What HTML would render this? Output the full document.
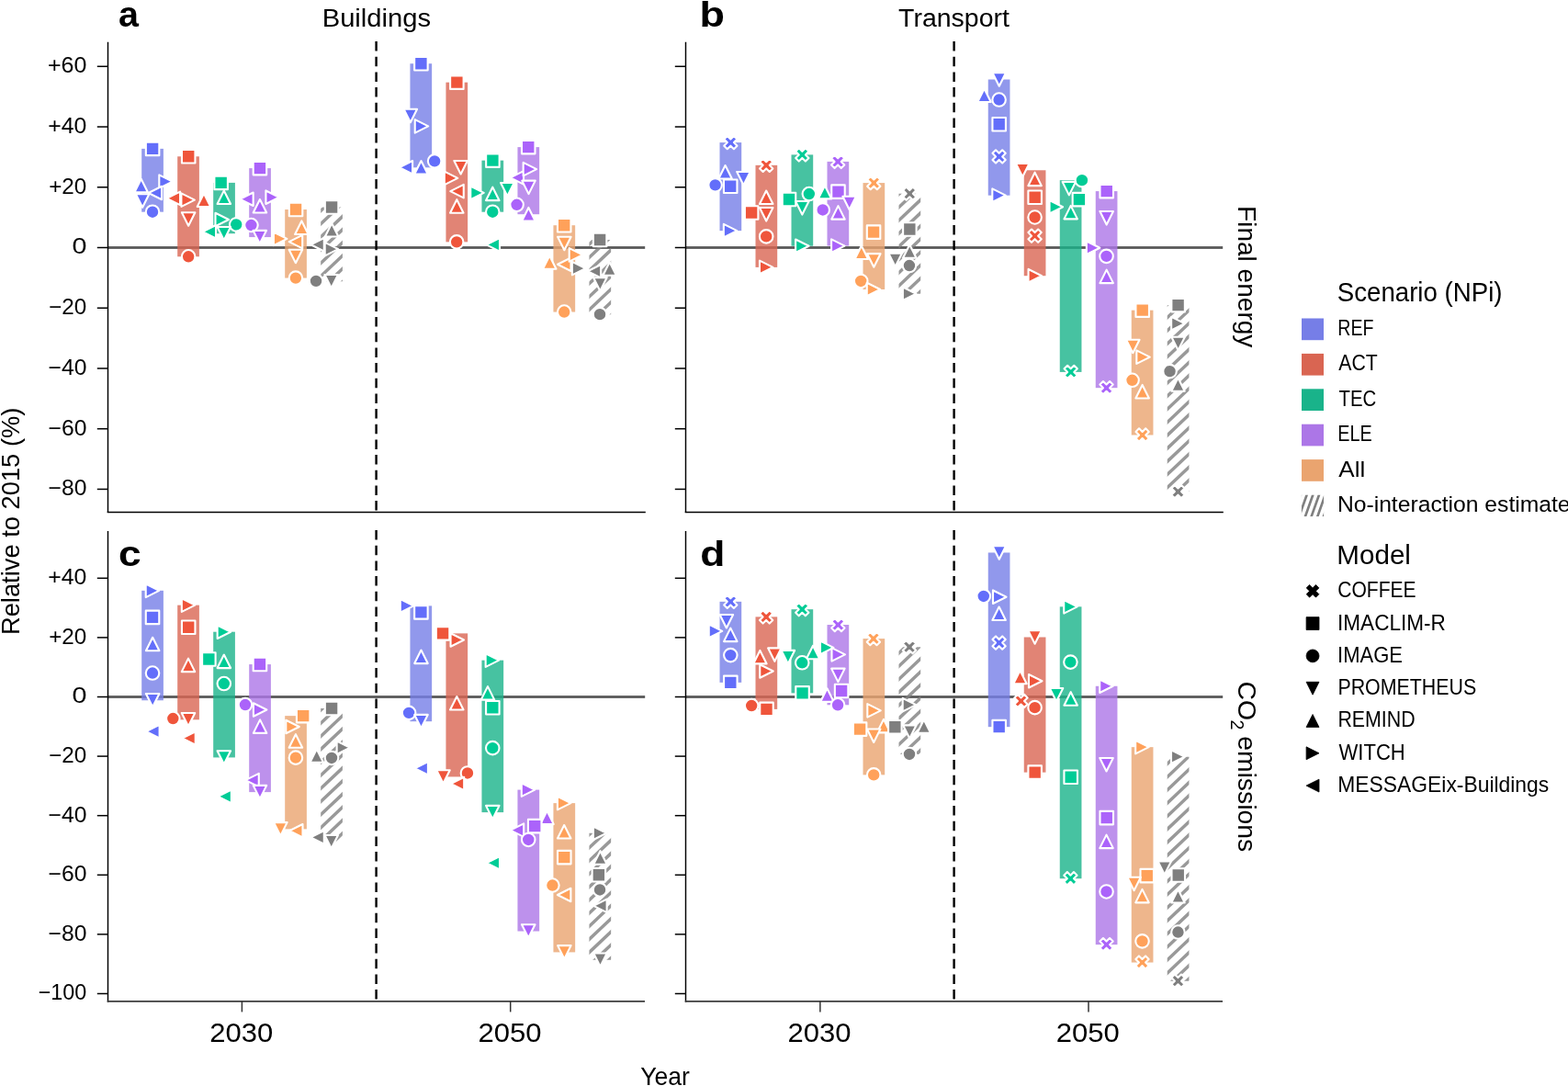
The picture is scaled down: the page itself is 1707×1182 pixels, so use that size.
<!DOCTYPE html>
<html lang="en">
<head>
<meta charset="utf-8">
<title>Sectoral scenarios: final energy and CO2 emissions relative to 2015</title>
<style>
html,body{margin:0;padding:0;background:#fff;}
body{width:1707px;height:1182px;overflow:hidden;}
svg{display:block;}
text{white-space:pre;}
</style>
</head>
<body>
<svg width="1707" height="1182" viewBox="0 0 1707 1182" font-family='"Liberation Sans", sans-serif' fill="#000">
<rect width="1707" height="1182" fill="#fff"/>
<g id="panel-a">
<rect x="117.50" y="268.10" width="584.70" height="2.8" fill="#595959"/>
<rect x="154.20" y="161.88" width="23.7" height="68.80" fill="#767ee7" opacity="0.8"/>
<rect x="232.20" y="198.90" width="23.7" height="55.30" fill="#19b38a" opacity="0.8"/>
<clipPath id="hc1"><rect x="349.20" y="225.44" width="23.7" height="80.81"/></clipPath>
<path d="M347.20,200.56L374.90,174.38V179.18L347.20,205.36ZM347.20,214.79L374.90,188.61V193.41L347.20,219.59ZM347.20,229.02L374.90,202.84V207.64L347.20,233.82ZM347.20,243.25L374.90,217.07V221.87L347.20,248.05ZM347.20,257.48L374.90,231.30V236.10L347.20,262.28ZM347.20,271.71L374.90,245.53V250.33L347.20,276.51ZM347.20,285.94L374.90,259.76V264.56L347.20,290.74ZM347.20,300.17L374.90,273.99V278.79L347.20,304.97ZM347.20,314.40L374.90,288.22V293.02L347.20,319.20ZM347.20,328.63L374.90,302.45V307.25L347.20,333.43ZM347.20,342.86L374.90,316.68V321.48L347.20,347.66ZM347.20,357.09L374.90,330.91V335.71L347.20,361.89ZM347.20,371.32L374.90,345.14V349.94L347.20,376.12Z" fill="#7f7f7f" opacity="0.8" clip-path="url(#hc1)"/>
<rect x="310.20" y="228.02" width="23.7" height="74.56" fill="#eaa46f" opacity="0.8"/>
<rect x="271.20" y="183.09" width="23.7" height="74.99" fill="#ac76e7" opacity="0.8"/>
<rect x="193.20" y="170.29" width="23.7" height="109.00" fill="#d96552" opacity="0.8"/>
<rect x="446.45" y="69.24" width="23.7" height="113.09" fill="#767ee7" opacity="0.8"/>
<rect x="524.45" y="174.64" width="23.7" height="56.06" fill="#19b38a" opacity="0.8"/>
<clipPath id="hc2"><rect x="641.45" y="260.96" width="23.7" height="81.18"/></clipPath>
<path d="M639.45,237.04L667.15,210.86V215.66L639.45,241.84ZM639.45,251.27L667.15,225.09V229.89L639.45,256.07ZM639.45,265.50L667.15,239.32V244.12L639.45,270.30ZM639.45,279.73L667.15,253.55V258.35L639.45,284.53ZM639.45,293.96L667.15,267.78V272.58L639.45,298.76ZM639.45,308.19L667.15,282.01V286.81L639.45,312.99ZM639.45,322.42L667.15,296.24V301.04L639.45,327.22ZM639.45,336.65L667.15,310.47V315.27L639.45,341.45ZM639.45,350.88L667.15,324.70V329.50L639.45,355.68ZM639.45,365.11L667.15,338.93V343.73L639.45,369.91ZM639.45,379.34L667.15,353.16V357.96L639.45,384.14ZM639.45,393.57L667.15,367.39V372.19L639.45,398.37ZM639.45,407.80L667.15,381.62V386.42L639.45,412.60Z" fill="#7f7f7f" opacity="0.8" clip-path="url(#hc2)"/>
<rect x="602.45" y="245.22" width="23.7" height="94.33" fill="#eaa46f" opacity="0.8"/>
<rect x="563.45" y="160.12" width="23.7" height="73.09" fill="#ac76e7" opacity="0.8"/>
<rect x="485.45" y="89.66" width="23.7" height="173.68" fill="#d96552" opacity="0.8"/>
<line x1="409.6" y1="45.10" x2="409.6" y2="555.61" stroke="#000" stroke-width="2.4" stroke-dasharray="10.5 6.167"/>
<g stroke-linejoin="round">
<rect x="158.85" y="154.63" width="14.50" height="14.50" fill="#636EFA" stroke="#fff" stroke-width="2.1"/>
<polygon points="153.66,194.74 146.41,209.24 160.91,209.24" fill="#636EFA" stroke="#fff" stroke-width="2.1"/>
<polygon points="155.10,225.79 147.85,211.29 162.35,211.29" fill="#636EFA" stroke="#fff" stroke-width="2.1"/>
<polygon points="187.80,197.61 173.30,190.36 173.30,204.86" fill="#636EFA" stroke="#fff" stroke-width="2.1"/>
<polygon points="161.58,209.98 176.08,202.73 176.08,217.23" fill="#636EFA" stroke="#fff" stroke-width="2.1"/>
<circle cx="166.03" cy="230.68" r="7.25" fill="#636EFA" stroke="#fff" stroke-width="2.1"/>
<rect x="197.96" y="163.04" width="14.50" height="14.50" fill="#EF553B" stroke="#fff" stroke-width="2.1"/>
<polygon points="181.57,215.87 196.07,208.62 196.07,223.12" fill="#EF553B" stroke="#fff" stroke-width="2.1"/>
<polygon points="211.89,217.60 197.39,210.35 197.39,224.85" fill="#EF553B" stroke="#fff" stroke-width="2.1"/>
<polygon points="221.97,210.56 214.72,225.06 229.22,225.06" fill="#EF553B" stroke="#fff" stroke-width="2.1"/>
<polygon points="205.14,245.77 197.89,231.27 212.39,231.27" fill="#EF553B" stroke="#fff" stroke-width="2.1"/>
<circle cx="205.14" cy="279.29" r="7.25" fill="#EF553B" stroke="#fff" stroke-width="2.1"/>
<rect x="233.41" y="191.65" width="14.50" height="14.50" fill="#00CC96" stroke="#fff" stroke-width="2.1"/>
<polygon points="243.82,207.54 236.57,222.04 251.07,222.04" fill="#00CC96" stroke="#fff" stroke-width="2.1"/>
<circle cx="257.20" cy="244.35" r="7.25" fill="#00CC96" stroke="#fff" stroke-width="2.1"/>
<polygon points="220.54,252.25 235.04,245.00 235.04,259.50" fill="#00CC96" stroke="#fff" stroke-width="2.1"/>
<polygon points="243.82,261.45 236.57,246.95 251.07,246.95" fill="#00CC96" stroke="#fff" stroke-width="2.1"/>
<polygon points="248.99,239.02 234.49,231.77 234.49,246.27" fill="#00CC96" stroke="#fff" stroke-width="2.1"/>
<rect x="275.69" y="175.84" width="14.50" height="14.50" fill="#AB63FA" stroke="#fff" stroke-width="2.1"/>
<polygon points="261.16,216.74 275.66,209.49 275.66,223.99" fill="#AB63FA" stroke="#fff" stroke-width="2.1"/>
<polygon points="303.92,214.72 289.42,207.47 289.42,221.97" fill="#AB63FA" stroke="#fff" stroke-width="2.1"/>
<polygon points="282.94,217.03 275.69,231.53 290.19,231.53" fill="#AB63FA" stroke="#fff" stroke-width="2.1"/>
<circle cx="273.45" cy="245.06" r="7.25" fill="#AB63FA" stroke="#fff" stroke-width="2.1"/>
<polygon points="282.79,265.33 275.54,250.83 290.04,250.83" fill="#AB63FA" stroke="#fff" stroke-width="2.1"/>
<rect x="314.80" y="220.77" width="14.50" height="14.50" fill="#FFA15A" stroke="#fff" stroke-width="2.1"/>
<polygon points="328.38,240.47 321.13,254.97 335.63,254.97" fill="#FFA15A" stroke="#fff" stroke-width="2.1"/>
<polygon points="312.41,259.88 297.91,252.63 297.91,267.13" fill="#FFA15A" stroke="#fff" stroke-width="2.1"/>
<polygon points="314.72,263.18 329.22,255.93 329.22,270.43" fill="#FFA15A" stroke="#fff" stroke-width="2.1"/>
<polygon points="321.91,286.18 314.66,271.68 329.16,271.68" fill="#FFA15A" stroke="#fff" stroke-width="2.1"/>
<circle cx="321.91" cy="302.58" r="7.25" fill="#FFA15A" stroke="#fff" stroke-width="2.1"/>
<rect x="353.84" y="218.19" width="14.50" height="14.50" fill="#7f7f7f" stroke="#fff" stroke-width="2.1"/>
<polygon points="361.16,243.06 353.91,257.56 368.41,257.56" fill="#7f7f7f" stroke="#fff" stroke-width="2.1"/>
<polygon points="338.31,266.20 352.81,258.95 352.81,273.45" fill="#7f7f7f" stroke="#fff" stroke-width="2.1"/>
<polygon points="368.20,271.09 353.70,263.84 353.70,278.34" fill="#7f7f7f" stroke="#fff" stroke-width="2.1"/>
<circle cx="344.05" cy="305.89" r="7.25" fill="#7f7f7f" stroke="#fff" stroke-width="2.1"/>
<polygon points="360.73,313.50 353.48,299.00 367.98,299.00" fill="#7f7f7f" stroke="#fff" stroke-width="2.1"/>
<rect x="451.15" y="61.99" width="14.50" height="14.50" fill="#636EFA" stroke="#fff" stroke-width="2.1"/>
<polygon points="446.82,133.22 439.57,118.72 454.07,118.72" fill="#636EFA" stroke="#fff" stroke-width="2.1"/>
<polygon points="466.23,137.40 451.73,130.15 451.73,144.65" fill="#636EFA" stroke="#fff" stroke-width="2.1"/>
<circle cx="473.14" cy="175.36" r="7.25" fill="#636EFA" stroke="#fff" stroke-width="2.1"/>
<polygon points="434.61,182.26 449.11,175.01 449.11,189.51" fill="#636EFA" stroke="#fff" stroke-width="2.1"/>
<polygon points="458.47,175.08 451.22,189.58 465.72,189.58" fill="#636EFA" stroke="#fff" stroke-width="2.1"/>
<rect x="490.12" y="82.41" width="14.50" height="14.50" fill="#EF553B" stroke="#fff" stroke-width="2.1"/>
<polygon points="501.61,189.44 494.36,174.94 508.86,174.94" fill="#EF553B" stroke="#fff" stroke-width="2.1"/>
<polygon points="498.30,193.91 483.80,186.66 483.80,201.16" fill="#EF553B" stroke="#fff" stroke-width="2.1"/>
<polygon points="490.26,208.15 504.76,200.90 504.76,215.40" fill="#EF553B" stroke="#fff" stroke-width="2.1"/>
<rect x="529.16" y="167.39" width="14.50" height="14.50" fill="#00CC96" stroke="#fff" stroke-width="2.1"/>
<rect x="567.99" y="152.87" width="14.50" height="14.50" fill="#AB63FA" stroke="#fff" stroke-width="2.1"/>
<polygon points="555.55,193.33 570.05,186.08 570.05,200.58" fill="#AB63FA" stroke="#fff" stroke-width="2.1"/>
<polygon points="584.14,184.13 569.64,176.88 569.64,191.38" fill="#AB63FA" stroke="#fff" stroke-width="2.1"/>
<polygon points="497.30,217.19 490.05,231.69 504.55,231.69" fill="#EF553B" stroke="#fff" stroke-width="2.1"/>
<circle cx="497.15" cy="263.34" r="7.25" fill="#EF553B" stroke="#fff" stroke-width="2.1"/>
<polygon points="526.77,209.84 512.27,202.59 512.27,217.09" fill="#00CC96" stroke="#fff" stroke-width="2.1"/>
<polygon points="536.27,203.67 529.02,218.17 543.52,218.17" fill="#00CC96" stroke="#fff" stroke-width="2.1"/>
<polygon points="552.37,213.43 545.12,198.93 559.62,198.93" fill="#00CC96" stroke="#fff" stroke-width="2.1"/>
<circle cx="536.27" cy="230.70" r="7.25" fill="#00CC96" stroke="#fff" stroke-width="2.1"/>
<polygon points="529.52,266.36 544.02,259.11 544.02,273.61" fill="#00CC96" stroke="#fff" stroke-width="2.1"/>
<polygon points="575.52,211.13 568.27,196.63 582.77,196.63" fill="#AB63FA" stroke="#fff" stroke-width="2.1"/>
<circle cx="562.58" cy="222.79" r="7.25" fill="#AB63FA" stroke="#fff" stroke-width="2.1"/>
<polygon points="575.38,225.96 568.13,240.46 582.63,240.46" fill="#AB63FA" stroke="#fff" stroke-width="2.1"/>
<rect x="606.96" y="237.97" width="14.50" height="14.50" fill="#FFA15A" stroke="#fff" stroke-width="2.1"/>
<polygon points="614.35,272.24 607.10,257.74 621.60,257.74" fill="#FFA15A" stroke="#fff" stroke-width="2.1"/>
<polygon points="598.24,278.30 590.99,292.80 605.49,292.80" fill="#FFA15A" stroke="#fff" stroke-width="2.1"/>
<polygon points="607.03,287.78 621.53,280.53 621.53,295.03" fill="#FFA15A" stroke="#fff" stroke-width="2.1"/>
<polygon points="634.19,277.43 619.69,270.18 619.69,284.68" fill="#FFA15A" stroke="#fff" stroke-width="2.1"/>
<circle cx="614.21" cy="339.55" r="7.25" fill="#FFA15A" stroke="#fff" stroke-width="2.1"/>
<rect x="645.85" y="253.71" width="14.50" height="14.50" fill="#7f7f7f" stroke="#fff" stroke-width="2.1"/>
<polygon points="637.35,292.10 622.85,284.85 622.85,299.35" fill="#7f7f7f" stroke="#fff" stroke-width="2.1"/>
<polygon points="639.67,295.26 654.17,288.01 654.17,302.51" fill="#7f7f7f" stroke="#fff" stroke-width="2.1"/>
<polygon points="663.67,285.20 656.42,299.70 670.92,299.70" fill="#7f7f7f" stroke="#fff" stroke-width="2.1"/>
<polygon points="653.32,316.82 646.07,302.32 660.57,302.32" fill="#7f7f7f" stroke="#fff" stroke-width="2.1"/>
<circle cx="653.03" cy="342.14" r="7.25" fill="#7f7f7f" stroke="#fff" stroke-width="2.1"/>
</g>
<line x1="117.50" y1="45.70" x2="117.50" y2="558.10" stroke="#000" stroke-width="1.45"/>
<line x1="116.80" y1="557.55" x2="702.80" y2="557.55" stroke="#000" stroke-width="1.4"/>
<line x1="105.80" y1="72.30" x2="117.50" y2="72.30" stroke="#000" stroke-width="1.5"/>
<text x="51.95" y="79.25" font-size="23.80" textLength="42.46" lengthAdjust="spacingAndGlyphs">+60</text>
<line x1="105.80" y1="138.03" x2="117.50" y2="138.03" stroke="#000" stroke-width="1.5"/>
<text x="52.26" y="144.98" font-size="23.80" textLength="42.14" lengthAdjust="spacingAndGlyphs">+40</text>
<line x1="105.80" y1="203.77" x2="117.50" y2="203.77" stroke="#000" stroke-width="1.5"/>
<text x="53.19" y="210.72" font-size="23.80" textLength="41.20" lengthAdjust="spacingAndGlyphs">+20</text>
<line x1="105.80" y1="269.50" x2="117.50" y2="269.50" stroke="#000" stroke-width="1.5"/>
<text x="78.55" y="276.45" font-size="23.80" textLength="15.99" lengthAdjust="spacingAndGlyphs">0</text>
<line x1="105.80" y1="335.24" x2="117.50" y2="335.24" stroke="#000" stroke-width="1.5"/>
<text x="53.19" y="342.19" font-size="23.80" textLength="41.20" lengthAdjust="spacingAndGlyphs">−20</text>
<line x1="105.80" y1="400.98" x2="117.50" y2="400.98" stroke="#000" stroke-width="1.5"/>
<text x="52.46" y="407.93" font-size="23.80" textLength="41.93" lengthAdjust="spacingAndGlyphs">−40</text>
<line x1="105.80" y1="466.71" x2="117.50" y2="466.71" stroke="#000" stroke-width="1.5"/>
<text x="52.46" y="473.66" font-size="23.80" textLength="41.93" lengthAdjust="spacingAndGlyphs">−60</text>
<line x1="105.80" y1="532.44" x2="117.50" y2="532.44" stroke="#000" stroke-width="1.5"/>
<text x="52.46" y="539.39" font-size="23.80" textLength="41.93" lengthAdjust="spacingAndGlyphs">−80</text>
</g>
<g id="panel-b">
<rect x="746.50" y="268.10" width="584.70" height="2.8" fill="#595959"/>
<rect x="783.50" y="155.09" width="23.7" height="96.05" fill="#767ee7" opacity="0.8"/>
<rect x="861.50" y="168.40" width="23.7" height="99.34" fill="#19b38a" opacity="0.8"/>
<clipPath id="hc3"><rect x="978.50" y="210.67" width="23.7" height="109.05"/></clipPath>
<path d="M976.50,182.48L1004.20,156.30V161.10L976.50,187.28ZM976.50,196.71L1004.20,170.53V175.33L976.50,201.51ZM976.50,210.94L1004.20,184.76V189.56L976.50,215.74ZM976.50,225.17L1004.20,198.99V203.79L976.50,229.97ZM976.50,239.40L1004.20,213.22V218.02L976.50,244.20ZM976.50,253.63L1004.20,227.45V232.25L976.50,258.43ZM976.50,267.86L1004.20,241.68V246.48L976.50,272.66ZM976.50,282.09L1004.20,255.91V260.71L976.50,286.89ZM976.50,296.32L1004.20,270.14V274.94L976.50,301.12ZM976.50,310.55L1004.20,284.37V289.17L976.50,315.35ZM976.50,324.78L1004.20,298.60V303.40L976.50,329.58ZM976.50,339.01L1004.20,312.83V317.63L976.50,343.81ZM976.50,353.24L1004.20,327.06V331.86L976.50,358.04ZM976.50,367.47L1004.20,341.29V346.09L976.50,372.27ZM976.50,381.70L1004.20,355.52V360.32L976.50,386.50Z" fill="#7f7f7f" opacity="0.8" clip-path="url(#hc3)"/>
<rect x="939.50" y="199.08" width="23.7" height="115.94" fill="#eaa46f" opacity="0.8"/>
<rect x="900.50" y="175.91" width="23.7" height="91.67" fill="#ac76e7" opacity="0.8"/>
<rect x="822.50" y="179.83" width="23.7" height="111.08" fill="#d96552" opacity="0.8"/>
<rect x="1075.75" y="86.50" width="23.7" height="126.18" fill="#767ee7" opacity="0.8"/>
<rect x="1153.75" y="196.14" width="23.7" height="208.77" fill="#19b38a" opacity="0.8"/>
<clipPath id="hc4"><rect x="1270.75" y="332.13" width="23.7" height="202.92"/></clipPath>
<path d="M1268.75,302.54L1296.45,276.36V281.16L1268.75,307.34ZM1268.75,316.77L1296.45,290.59V295.39L1268.75,321.57ZM1268.75,331.00L1296.45,304.82V309.62L1268.75,335.80ZM1268.75,345.23L1296.45,319.05V323.85L1268.75,350.03ZM1268.75,359.46L1296.45,333.28V338.08L1268.75,364.26ZM1268.75,373.69L1296.45,347.51V352.31L1268.75,378.49ZM1268.75,387.92L1296.45,361.74V366.54L1268.75,392.72ZM1268.75,402.15L1296.45,375.97V380.77L1268.75,406.95ZM1268.75,416.38L1296.45,390.20V395.00L1268.75,421.18ZM1268.75,430.61L1296.45,404.43V409.23L1268.75,435.41ZM1268.75,444.84L1296.45,418.66V423.46L1268.75,449.64ZM1268.75,459.07L1296.45,432.89V437.69L1268.75,463.87ZM1268.75,473.30L1296.45,447.12V451.92L1268.75,478.10ZM1268.75,487.53L1296.45,461.35V466.15L1268.75,492.33ZM1268.75,501.76L1296.45,475.58V480.38L1268.75,506.56ZM1268.75,515.99L1296.45,489.81V494.61L1268.75,520.79ZM1268.75,530.22L1296.45,504.04V508.84L1268.75,535.02ZM1268.75,544.45L1296.45,518.27V523.07L1268.75,549.25ZM1268.75,558.68L1296.45,532.50V537.30L1268.75,563.48ZM1268.75,572.91L1296.45,546.73V551.53L1268.75,577.71ZM1268.75,587.14L1296.45,560.96V565.76L1268.75,591.94ZM1268.75,601.37L1296.45,575.19V579.99L1268.75,606.17Z" fill="#7f7f7f" opacity="0.8" clip-path="url(#hc4)"/>
<rect x="1231.75" y="337.67" width="23.7" height="135.83" fill="#eaa46f" opacity="0.8"/>
<rect x="1192.75" y="208.08" width="23.7" height="214.09" fill="#ac76e7" opacity="0.8"/>
<rect x="1114.75" y="185.29" width="23.7" height="114.92" fill="#d96552" opacity="0.8"/>
<line x1="1038.6" y1="45.10" x2="1038.6" y2="555.61" stroke="#000" stroke-width="2.4" stroke-dasharray="10.5 6.167"/>
<g stroke-linejoin="round">
<polygon points="789.57,180.00 782.32,194.50 796.82,194.50" fill="#636EFA" stroke="#fff" stroke-width="2.1"/>
<polygon points="809.45,201.43 802.20,186.93 816.70,186.93" fill="#636EFA" stroke="#fff" stroke-width="2.1"/>
<circle cx="778.61" cy="201.36" r="7.25" fill="#636EFA" stroke="#fff" stroke-width="2.1"/>
<rect x="787.96" y="195.52" width="14.50" height="14.50" fill="#636EFA" stroke="#fff" stroke-width="2.1"/>
<polygon points="791.79,147.95 795.36,151.52 798.93,147.95 802.50,151.52 798.93,155.09 802.50,158.66 798.93,162.23 795.36,158.66 791.79,162.23 788.22,158.66 791.79,155.09 788.22,151.52" fill="#636EFA" stroke="#fff" stroke-width="2.1"/>
<polygon points="802.32,251.14 787.82,243.89 787.82,258.39" fill="#636EFA" stroke="#fff" stroke-width="2.1"/>
<polygon points="834.19,207.55 826.94,222.05 841.44,222.05" fill="#EF553B" stroke="#fff" stroke-width="2.1"/>
<rect x="810.89" y="224.25" width="14.50" height="14.50" fill="#EF553B" stroke="#fff" stroke-width="2.1"/>
<polygon points="834.19,240.57 826.94,226.07 841.44,226.07" fill="#EF553B" stroke="#fff" stroke-width="2.1"/>
<circle cx="834.19" cy="257.41" r="7.25" fill="#EF553B" stroke="#fff" stroke-width="2.1"/>
<polygon points="830.62,172.69 834.19,176.26 837.76,172.69 841.33,176.26 837.76,179.83 841.33,183.40 837.76,186.97 834.19,183.40 830.62,186.97 827.05,183.40 830.62,179.83 827.05,176.26" fill="#EF553B" stroke="#fff" stroke-width="2.1"/>
<polygon points="841.46,290.91 826.96,283.66 826.96,298.16" fill="#EF553B" stroke="#fff" stroke-width="2.1"/>
<circle cx="880.84" cy="211.07" r="7.25" fill="#00CC96" stroke="#fff" stroke-width="2.1"/>
<rect x="851.75" y="209.77" width="14.50" height="14.50" fill="#00CC96" stroke="#fff" stroke-width="2.1"/>
<polygon points="873.33,233.53 866.08,219.03 880.58,219.03" fill="#00CC96" stroke="#fff" stroke-width="2.1"/>
<polygon points="897.91,201.91 890.66,216.41 905.16,216.41" fill="#00CC96" stroke="#fff" stroke-width="2.1"/>
<polygon points="869.76,161.26 873.33,164.83 876.90,161.26 880.47,164.83 876.90,168.40 880.47,171.97 876.90,175.54 873.33,171.97 869.76,175.54 866.19,171.97 869.76,168.40 866.19,164.83" fill="#00CC96" stroke="#fff" stroke-width="2.1"/>
<polygon points="880.60,267.74 866.10,260.49 866.10,274.99" fill="#00CC96" stroke="#fff" stroke-width="2.1"/>
<rect x="905.22" y="201.39" width="14.50" height="14.50" fill="#AB63FA" stroke="#fff" stroke-width="2.1"/>
<polygon points="924.68,228.20 917.43,213.70 931.93,213.70" fill="#AB63FA" stroke="#fff" stroke-width="2.1"/>
<circle cx="895.71" cy="228.44" r="7.25" fill="#AB63FA" stroke="#fff" stroke-width="2.1"/>
<polygon points="912.47,224.15 905.22,238.65 919.72,238.65" fill="#AB63FA" stroke="#fff" stroke-width="2.1"/>
<polygon points="908.58,168.77 912.15,172.34 915.72,168.77 919.29,172.34 915.72,175.91 919.29,179.48 915.72,183.05 912.15,179.48 908.58,183.05 905.01,179.48 908.58,175.91 905.01,172.34" fill="#AB63FA" stroke="#fff" stroke-width="2.1"/>
<polygon points="919.58,267.58 905.08,260.33 905.08,274.83" fill="#AB63FA" stroke="#fff" stroke-width="2.1"/>
<rect x="943.81" y="245.38" width="14.50" height="14.50" fill="#FFA15A" stroke="#fff" stroke-width="2.1"/>
<polygon points="937.83,267.51 930.58,282.01 945.08,282.01" fill="#FFA15A" stroke="#fff" stroke-width="2.1"/>
<polygon points="951.29,290.67 944.04,276.17 958.54,276.17" fill="#FFA15A" stroke="#fff" stroke-width="2.1"/>
<circle cx="937.20" cy="305.94" r="7.25" fill="#FFA15A" stroke="#fff" stroke-width="2.1"/>
<polygon points="947.72,191.94 951.29,195.51 954.86,191.94 958.43,195.51 954.86,199.08 958.43,202.65 954.86,206.22 951.29,202.65 947.72,206.22 944.15,202.65 947.72,199.08 944.15,195.51" fill="#FFA15A" stroke="#fff" stroke-width="2.1"/>
<polygon points="958.25,315.02 943.75,307.77 943.75,322.27" fill="#FFA15A" stroke="#fff" stroke-width="2.1"/>
<rect x="983.10" y="242.25" width="14.50" height="14.50" fill="#7f7f7f" stroke="#fff" stroke-width="2.1"/>
<polygon points="974.62,290.20 967.37,275.70 981.87,275.70" fill="#7f7f7f" stroke="#fff" stroke-width="2.1"/>
<polygon points="990.27,266.26 983.02,280.76 997.52,280.76" fill="#7f7f7f" stroke="#fff" stroke-width="2.1"/>
<circle cx="989.96" cy="289.03" r="7.25" fill="#7f7f7f" stroke="#fff" stroke-width="2.1"/>
<polygon points="986.70,203.53 990.27,207.10 993.84,203.53 997.41,207.10 993.84,210.67 997.41,214.24 993.84,217.81 990.27,214.24 986.70,217.81 983.13,214.24 986.70,210.67 983.13,207.10" fill="#7f7f7f" stroke="#fff" stroke-width="2.1"/>
<polygon points="997.39,319.72 982.89,312.47 982.89,326.97" fill="#7f7f7f" stroke="#fff" stroke-width="2.1"/>
<polygon points="1087.75,93.75 1080.50,79.25 1095.00,79.25" fill="#636EFA" stroke="#fff" stroke-width="2.1"/>
<polygon points="1071.50,96.50 1064.25,111.00 1078.75,111.00" fill="#636EFA" stroke="#fff" stroke-width="2.1"/>
<circle cx="1087.61" cy="108.57" r="7.25" fill="#636EFA" stroke="#fff" stroke-width="2.1"/>
<rect x="1080.43" y="128.07" width="14.50" height="14.50" fill="#636EFA" stroke="#fff" stroke-width="2.1"/>
<polygon points="1084.04,163.26 1087.61,166.83 1091.18,163.26 1094.75,166.83 1091.18,170.40 1094.75,173.97 1091.18,177.54 1087.61,173.97 1084.04,177.54 1080.47,173.97 1084.04,170.40 1080.47,166.83" fill="#636EFA" stroke="#fff" stroke-width="2.1"/>
<polygon points="1094.79,212.68 1080.29,205.43 1080.29,219.93" fill="#636EFA" stroke="#fff" stroke-width="2.1"/>
<polygon points="1113.21,192.54 1105.96,178.04 1120.46,178.04" fill="#EF553B" stroke="#fff" stroke-width="2.1"/>
<polygon points="1126.58,187.67 1119.33,202.17 1133.83,202.17" fill="#EF553B" stroke="#fff" stroke-width="2.1"/>
<rect x="1119.40" y="207.44" width="14.50" height="14.50" fill="#EF553B" stroke="#fff" stroke-width="2.1"/>
<circle cx="1177.91" cy="196.14" r="7.25" fill="#00CC96" stroke="#fff" stroke-width="2.1"/>
<polygon points="1163.82,212.38 1156.57,197.88 1171.07,197.88" fill="#00CC96" stroke="#fff" stroke-width="2.1"/>
<rect x="1167.65" y="209.89" width="14.50" height="14.50" fill="#00CC96" stroke="#fff" stroke-width="2.1"/>
<polygon points="1157.06,225.19 1142.56,217.94 1142.56,232.44" fill="#00CC96" stroke="#fff" stroke-width="2.1"/>
<rect x="1197.48" y="200.83" width="14.50" height="14.50" fill="#AB63FA" stroke="#fff" stroke-width="2.1"/>
<circle cx="1126.58" cy="236.50" r="7.25" fill="#EF553B" stroke="#fff" stroke-width="2.1"/>
<polygon points="1123.01,249.50 1126.58,253.07 1130.15,249.50 1133.72,253.07 1130.15,256.64 1133.72,260.21 1130.15,263.78 1126.58,260.21 1123.01,263.78 1119.44,260.21 1123.01,256.64 1119.44,253.07" fill="#EF553B" stroke="#fff" stroke-width="2.1"/>
<polygon points="1134.05,300.21 1119.55,292.96 1119.55,307.46" fill="#EF553B" stroke="#fff" stroke-width="2.1"/>
<polygon points="1165.69,223.86 1158.44,238.36 1172.94,238.36" fill="#00CC96" stroke="#fff" stroke-width="2.1"/>
<polygon points="1204.66,244.55 1197.41,230.05 1211.91,230.05" fill="#AB63FA" stroke="#fff" stroke-width="2.1"/>
<polygon points="1197.32,269.72 1182.82,262.47 1182.82,276.97" fill="#AB63FA" stroke="#fff" stroke-width="2.1"/>
<circle cx="1204.52" cy="278.92" r="7.25" fill="#AB63FA" stroke="#fff" stroke-width="2.1"/>
<polygon points="1204.66,293.60 1197.41,308.10 1211.91,308.10" fill="#AB63FA" stroke="#fff" stroke-width="2.1"/>
<rect x="1236.45" y="330.42" width="14.50" height="14.50" fill="#FFA15A" stroke="#fff" stroke-width="2.1"/>
<polygon points="1233.28,384.18 1226.03,369.68 1240.53,369.68" fill="#FFA15A" stroke="#fff" stroke-width="2.1"/>
<polygon points="1251.82,388.64 1237.32,381.39 1237.32,395.89" fill="#FFA15A" stroke="#fff" stroke-width="2.1"/>
<rect x="1275.35" y="324.88" width="14.50" height="14.50" fill="#7f7f7f" stroke="#fff" stroke-width="2.1"/>
<polygon points="1289.64,352.12 1275.14,344.87 1275.14,359.37" fill="#7f7f7f" stroke="#fff" stroke-width="2.1"/>
<polygon points="1282.60,381.30 1275.35,366.80 1289.85,366.80" fill="#7f7f7f" stroke="#fff" stroke-width="2.1"/>
<polygon points="1162.12,397.77 1165.69,401.34 1169.26,397.77 1172.83,401.34 1169.26,404.91 1172.83,408.48 1169.26,412.05 1165.69,408.48 1162.12,412.05 1158.55,408.48 1162.12,404.91 1158.55,401.34" fill="#00CC96" stroke="#fff" stroke-width="2.1"/>
<polygon points="1200.95,415.03 1204.52,418.60 1208.09,415.03 1211.66,418.60 1208.09,422.17 1211.66,425.74 1208.09,429.31 1204.52,425.74 1200.95,429.31 1197.38,425.74 1200.95,422.17 1197.38,418.60" fill="#AB63FA" stroke="#fff" stroke-width="2.1"/>
<circle cx="1232.56" cy="413.76" r="7.25" fill="#FFA15A" stroke="#fff" stroke-width="2.1"/>
<polygon points="1243.63,418.95 1236.38,433.45 1250.88,433.45" fill="#FFA15A" stroke="#fff" stroke-width="2.1"/>
<polygon points="1240.06,466.36 1243.63,469.93 1247.20,466.36 1250.77,469.93 1247.20,473.50 1250.77,477.07 1247.20,480.64 1243.63,477.07 1240.06,480.64 1236.49,477.07 1240.06,473.50 1236.49,469.93" fill="#FFA15A" stroke="#fff" stroke-width="2.1"/>
<circle cx="1273.54" cy="404.13" r="7.25" fill="#7f7f7f" stroke="#fff" stroke-width="2.1"/>
<polygon points="1282.46,411.18 1275.21,425.68 1289.71,425.68" fill="#7f7f7f" stroke="#fff" stroke-width="2.1"/>
<polygon points="1278.89,527.91 1282.46,531.48 1286.03,527.91 1289.60,531.48 1286.03,535.05 1289.60,538.62 1286.03,542.19 1282.46,538.62 1278.89,542.19 1275.32,538.62 1278.89,535.05 1275.32,531.48" fill="#7f7f7f" stroke="#fff" stroke-width="2.1"/>
</g>
<line x1="746.50" y1="45.70" x2="746.50" y2="558.10" stroke="#000" stroke-width="1.45"/>
<line x1="745.80" y1="557.55" x2="1331.80" y2="557.55" stroke="#000" stroke-width="1.4"/>
<line x1="734.80" y1="72.30" x2="746.50" y2="72.30" stroke="#000" stroke-width="1.5"/>
<line x1="734.80" y1="138.03" x2="746.50" y2="138.03" stroke="#000" stroke-width="1.5"/>
<line x1="734.80" y1="203.77" x2="746.50" y2="203.77" stroke="#000" stroke-width="1.5"/>
<line x1="734.80" y1="269.50" x2="746.50" y2="269.50" stroke="#000" stroke-width="1.5"/>
<line x1="734.80" y1="335.24" x2="746.50" y2="335.24" stroke="#000" stroke-width="1.5"/>
<line x1="734.80" y1="400.98" x2="746.50" y2="400.98" stroke="#000" stroke-width="1.5"/>
<line x1="734.80" y1="466.71" x2="746.50" y2="466.71" stroke="#000" stroke-width="1.5"/>
<line x1="734.80" y1="532.44" x2="746.50" y2="532.44" stroke="#000" stroke-width="1.5"/>
</g>
<g id="panel-c">
<rect x="117.50" y="757.10" width="584.70" height="2.8" fill="#595959"/>
<rect x="154.20" y="642.83" width="23.7" height="119.43" fill="#767ee7" opacity="0.8"/>
<rect x="232.20" y="687.70" width="23.7" height="136.73" fill="#19b38a" opacity="0.8"/>
<clipPath id="hc5"><rect x="349.20" y="770.96" width="23.7" height="145.36"/></clipPath>
<path d="M347.20,743.91L374.90,717.73V722.53L347.20,748.71ZM347.20,758.14L374.90,731.96V736.76L347.20,762.94ZM347.20,772.37L374.90,746.19V750.99L347.20,777.17ZM347.20,786.60L374.90,760.42V765.22L347.20,791.40ZM347.20,800.83L374.90,774.65V779.45L347.20,805.63ZM347.20,815.06L374.90,788.88V793.68L347.20,819.86ZM347.20,829.29L374.90,803.11V807.91L347.20,834.09ZM347.20,843.52L374.90,817.34V822.14L347.20,848.32ZM347.20,857.75L374.90,831.57V836.37L347.20,862.55ZM347.20,871.98L374.90,845.80V850.60L347.20,876.78ZM347.20,886.21L374.90,860.03V864.83L347.20,891.01ZM347.20,900.44L374.90,874.26V879.06L347.20,905.24ZM347.20,914.67L374.90,888.49V893.29L347.20,919.47ZM347.20,928.90L374.90,902.72V907.52L347.20,933.70ZM347.20,943.13L374.90,916.95V921.75L347.20,947.93ZM347.20,957.36L374.90,931.18V935.98L347.20,962.16ZM347.20,971.59L374.90,945.41V950.21L347.20,976.39ZM347.20,985.82L374.90,959.64V964.44L347.20,990.62Z" fill="#7f7f7f" opacity="0.8" clip-path="url(#hc5)"/>
<rect x="310.20" y="779.13" width="23.7" height="123.24" fill="#eaa46f" opacity="0.8"/>
<rect x="271.20" y="723.07" width="23.7" height="139.04" fill="#ac76e7" opacity="0.8"/>
<rect x="193.20" y="658.65" width="23.7" height="124.65" fill="#d96552" opacity="0.8"/>
<rect x="446.45" y="659.41" width="23.7" height="125.76" fill="#767ee7" opacity="0.8"/>
<rect x="524.45" y="718.66" width="23.7" height="165.46" fill="#19b38a" opacity="0.8"/>
<clipPath id="hc6"><rect x="641.45" y="906.76" width="23.7" height="137.98"/></clipPath>
<path d="M639.45,879.52L667.15,853.35V858.15L639.45,884.32ZM639.45,893.75L667.15,867.58V872.38L639.45,898.55ZM639.45,907.98L667.15,881.81V886.61L639.45,912.78ZM639.45,922.21L667.15,896.04V900.84L639.45,927.01ZM639.45,936.44L667.15,910.27V915.07L639.45,941.24ZM639.45,950.67L667.15,924.50V929.30L639.45,955.47ZM639.45,964.90L667.15,938.73V943.53L639.45,969.70ZM639.45,979.13L667.15,952.96V957.76L639.45,983.93ZM639.45,993.36L667.15,967.19V971.99L639.45,998.16ZM639.45,1007.59L667.15,981.42V986.22L639.45,1012.39ZM639.45,1021.82L667.15,995.65V1000.45L639.45,1026.62ZM639.45,1036.05L667.15,1009.88V1014.68L639.45,1040.85ZM639.45,1050.28L667.15,1024.11V1028.91L639.45,1055.08ZM639.45,1064.51L667.15,1038.34V1043.14L639.45,1069.31ZM639.45,1078.74L667.15,1052.57V1057.37L639.45,1083.54ZM639.45,1092.97L667.15,1066.80V1071.60L639.45,1097.77ZM639.45,1107.20L667.15,1081.03V1085.83L639.45,1112.00Z" fill="#7f7f7f" opacity="0.8" clip-path="url(#hc6)"/>
<rect x="602.45" y="874.12" width="23.7" height="162.28" fill="#eaa46f" opacity="0.8"/>
<rect x="563.45" y="859.60" width="23.7" height="153.93" fill="#ac76e7" opacity="0.8"/>
<rect x="485.45" y="689.39" width="23.7" height="156.05" fill="#d96552" opacity="0.8"/>
<line x1="409.6" y1="577.05" x2="409.6" y2="1087.56" stroke="#000" stroke-width="2.4" stroke-dasharray="10.5 6.167"/>
<g stroke-linejoin="round">
<polygon points="173.21,642.83 158.71,635.58 158.71,650.08" fill="#636EFA" stroke="#fff" stroke-width="2.1"/>
<rect x="158.78" y="664.63" width="14.50" height="14.50" fill="#636EFA" stroke="#fff" stroke-width="2.1"/>
<polygon points="166.17,693.74 158.92,708.24 173.42,708.24" fill="#636EFA" stroke="#fff" stroke-width="2.1"/>
<circle cx="166.03" cy="732.56" r="7.25" fill="#636EFA" stroke="#fff" stroke-width="2.1"/>
<polygon points="166.17,769.51 158.92,755.01 173.42,755.01" fill="#636EFA" stroke="#fff" stroke-width="2.1"/>
<polygon points="212.32,658.65 197.82,651.40 197.82,665.90" fill="#EF553B" stroke="#fff" stroke-width="2.1"/>
<rect x="197.96" y="675.56" width="14.50" height="14.50" fill="#EF553B" stroke="#fff" stroke-width="2.1"/>
<polygon points="205.00,716.61 197.75,731.11 212.25,731.11" fill="#EF553B" stroke="#fff" stroke-width="2.1"/>
<circle cx="188.32" cy="782.03" r="7.25" fill="#EF553B" stroke="#fff" stroke-width="2.1"/>
<rect x="220.11" y="710.28" width="14.50" height="14.50" fill="#00CC96" stroke="#fff" stroke-width="2.1"/>
<polygon points="251.15,687.70 236.65,680.45 236.65,694.95" fill="#00CC96" stroke="#fff" stroke-width="2.1"/>
<polygon points="243.82,712.58 236.57,727.08 251.07,727.08" fill="#00CC96" stroke="#fff" stroke-width="2.1"/>
<circle cx="243.82" cy="744.07" r="7.25" fill="#00CC96" stroke="#fff" stroke-width="2.1"/>
<rect x="275.69" y="715.82" width="14.50" height="14.50" fill="#AB63FA" stroke="#fff" stroke-width="2.1"/>
<circle cx="266.97" cy="767.07" r="7.25" fill="#AB63FA" stroke="#fff" stroke-width="2.1"/>
<polygon points="290.40,772.54 275.90,765.29 275.90,779.79" fill="#AB63FA" stroke="#fff" stroke-width="2.1"/>
<rect x="353.84" y="763.71" width="14.50" height="14.50" fill="#7f7f7f" stroke="#fff" stroke-width="2.1"/>
<polygon points="159.13,796.17 173.63,788.92 173.63,803.42" fill="#636EFA" stroke="#fff" stroke-width="2.1"/>
<polygon points="205.00,790.55 197.75,776.05 212.25,776.05" fill="#EF553B" stroke="#fff" stroke-width="2.1"/>
<polygon points="198.25,803.51 212.75,796.26 212.75,810.76" fill="#EF553B" stroke="#fff" stroke-width="2.1"/>
<polygon points="243.82,831.68 236.57,817.18 251.07,817.18" fill="#00CC96" stroke="#fff" stroke-width="2.1"/>
<polygon points="237.36,866.92 251.86,859.67 251.86,874.17" fill="#00CC96" stroke="#fff" stroke-width="2.1"/>
<polygon points="283.08,783.38 275.83,797.88 290.33,797.88" fill="#AB63FA" stroke="#fff" stroke-width="2.1"/>
<polygon points="267.27,849.09 281.77,841.84 281.77,856.34" fill="#AB63FA" stroke="#fff" stroke-width="2.1"/>
<polygon points="282.94,869.36 275.69,854.86 290.19,854.86" fill="#AB63FA" stroke="#fff" stroke-width="2.1"/>
<rect x="322.92" y="771.88" width="14.50" height="14.50" fill="#FFA15A" stroke="#fff" stroke-width="2.1"/>
<polygon points="325.78,790.99 311.28,783.74 311.28,798.24" fill="#FFA15A" stroke="#fff" stroke-width="2.1"/>
<polygon points="321.91,799.20 314.66,813.70 329.16,813.70" fill="#FFA15A" stroke="#fff" stroke-width="2.1"/>
<circle cx="321.91" cy="824.64" r="7.25" fill="#FFA15A" stroke="#fff" stroke-width="2.1"/>
<polygon points="305.37,909.62 298.12,895.12 312.62,895.12" fill="#FFA15A" stroke="#fff" stroke-width="2.1"/>
<polygon points="315.01,904.31 329.51,897.06 329.51,911.56" fill="#FFA15A" stroke="#fff" stroke-width="2.1"/>
<polygon points="381.14,813.71 366.64,806.46 366.64,820.96" fill="#7f7f7f" stroke="#fff" stroke-width="2.1"/>
<polygon points="344.77,815.31 337.52,829.81 352.02,829.81" fill="#7f7f7f" stroke="#fff" stroke-width="2.1"/>
<circle cx="361.02" cy="824.93" r="7.25" fill="#7f7f7f" stroke="#fff" stroke-width="2.1"/>
<polygon points="338.31,911.35 352.81,904.10 352.81,918.60" fill="#7f7f7f" stroke="#fff" stroke-width="2.1"/>
<polygon points="360.73,923.57 353.48,909.07 367.98,909.07" fill="#7f7f7f" stroke="#fff" stroke-width="2.1"/>
<polygon points="450.27,659.41 435.77,652.16 435.77,666.66" fill="#636EFA" stroke="#fff" stroke-width="2.1"/>
<rect x="451.15" y="659.14" width="14.50" height="14.50" fill="#636EFA" stroke="#fff" stroke-width="2.1"/>
<polygon points="458.47,707.59 451.22,722.09 465.72,722.09" fill="#636EFA" stroke="#fff" stroke-width="2.1"/>
<circle cx="445.10" cy="775.89" r="7.25" fill="#636EFA" stroke="#fff" stroke-width="2.1"/>
<polygon points="458.47,792.42 451.22,777.92 465.72,777.92" fill="#636EFA" stroke="#fff" stroke-width="2.1"/>
<rect x="474.81" y="682.14" width="14.50" height="14.50" fill="#EF553B" stroke="#fff" stroke-width="2.1"/>
<polygon points="505.05,696.51 490.55,689.26 490.55,703.76" fill="#EF553B" stroke="#fff" stroke-width="2.1"/>
<polygon points="497.30,758.07 490.05,772.57 504.55,772.57" fill="#EF553B" stroke="#fff" stroke-width="2.1"/>
<polygon points="543.16,718.66 528.66,711.41 528.66,725.91" fill="#00CC96" stroke="#fff" stroke-width="2.1"/>
<polygon points="530.95,747.14 523.70,761.64 538.20,761.64" fill="#00CC96" stroke="#fff" stroke-width="2.1"/>
<rect x="529.09" y="763.03" width="14.50" height="14.50" fill="#00CC96" stroke="#fff" stroke-width="2.1"/>
<polygon points="451.43,836.30 465.93,829.05 465.93,843.55" fill="#636EFA" stroke="#fff" stroke-width="2.1"/>
<polygon points="482.49,852.69 475.24,838.19 489.74,838.19" fill="#EF553B" stroke="#fff" stroke-width="2.1"/>
<circle cx="508.95" cy="841.48" r="7.25" fill="#EF553B" stroke="#fff" stroke-width="2.1"/>
<polygon points="490.69,852.98 505.19,845.73 505.19,860.23" fill="#EF553B" stroke="#fff" stroke-width="2.1"/>
<circle cx="536.27" cy="814.16" r="7.25" fill="#00CC96" stroke="#fff" stroke-width="2.1"/>
<polygon points="536.27,891.37 529.02,876.87 543.52,876.87" fill="#00CC96" stroke="#fff" stroke-width="2.1"/>
<polygon points="529.52,939.26 544.02,932.01 544.02,946.51" fill="#00CC96" stroke="#fff" stroke-width="2.1"/>
<polygon points="582.27,859.60 567.77,852.35 567.77,866.85" fill="#AB63FA" stroke="#fff" stroke-width="2.1"/>
<polygon points="595.51,882.62 588.26,897.12 602.76,897.12" fill="#AB63FA" stroke="#fff" stroke-width="2.1"/>
<rect x="574.96" y="891.89" width="14.50" height="14.50" fill="#AB63FA" stroke="#fff" stroke-width="2.1"/>
<polygon points="555.69,903.60 570.19,896.35 570.19,910.85" fill="#AB63FA" stroke="#fff" stroke-width="2.1"/>
<circle cx="575.24" cy="913.95" r="7.25" fill="#AB63FA" stroke="#fff" stroke-width="2.1"/>
<polygon points="621.39,874.12 606.89,866.87 606.89,881.37" fill="#FFA15A" stroke="#fff" stroke-width="2.1"/>
<polygon points="614.21,898.00 606.96,912.50 621.46,912.50" fill="#FFA15A" stroke="#fff" stroke-width="2.1"/>
<rect x="607.03" y="925.83" width="14.50" height="14.50" fill="#FFA15A" stroke="#fff" stroke-width="2.1"/>
<polygon points="660.36,906.76 645.86,899.51 645.86,914.01" fill="#7f7f7f" stroke="#fff" stroke-width="2.1"/>
<polygon points="575.24,1020.78 567.99,1006.28 582.49,1006.28" fill="#AB63FA" stroke="#fff" stroke-width="2.1"/>
<circle cx="601.41" cy="963.56" r="7.25" fill="#FFA15A" stroke="#fff" stroke-width="2.1"/>
<polygon points="606.88,974.06 621.38,966.81 621.38,981.31" fill="#FFA15A" stroke="#fff" stroke-width="2.1"/>
<polygon points="614.35,1043.65 607.10,1029.15 621.60,1029.15" fill="#FFA15A" stroke="#fff" stroke-width="2.1"/>
<polygon points="653.46,926.18 646.21,940.68 660.71,940.68" fill="#7f7f7f" stroke="#fff" stroke-width="2.1"/>
<rect x="644.63" y="945.02" width="14.50" height="14.50" fill="#7f7f7f" stroke="#fff" stroke-width="2.1"/>
<circle cx="653.03" cy="968.45" r="7.25" fill="#7f7f7f" stroke="#fff" stroke-width="2.1"/>
<polygon points="646.14,985.85 660.64,978.60 660.64,993.10" fill="#7f7f7f" stroke="#fff" stroke-width="2.1"/>
<polygon points="653.46,1051.99 646.21,1037.49 660.71,1037.49" fill="#7f7f7f" stroke="#fff" stroke-width="2.1"/>
</g>
<line x1="117.50" y1="578.00" x2="117.50" y2="1090.70" stroke="#000" stroke-width="1.45"/>
<line x1="116.80" y1="1089.80" x2="702.00" y2="1089.80" stroke="#3d3d3d" stroke-width="1.85"/>
<line x1="105.80" y1="629.30" x2="117.50" y2="629.30" stroke="#000" stroke-width="1.5"/>
<text x="52.26" y="636.25" font-size="23.80" textLength="42.14" lengthAdjust="spacingAndGlyphs">+40</text>
<line x1="105.80" y1="693.90" x2="117.50" y2="693.90" stroke="#000" stroke-width="1.5"/>
<text x="53.19" y="700.85" font-size="23.80" textLength="41.20" lengthAdjust="spacingAndGlyphs">+20</text>
<line x1="105.80" y1="758.50" x2="117.50" y2="758.50" stroke="#000" stroke-width="1.5"/>
<text x="78.55" y="765.45" font-size="23.80" textLength="15.99" lengthAdjust="spacingAndGlyphs">0</text>
<line x1="105.80" y1="823.10" x2="117.50" y2="823.10" stroke="#000" stroke-width="1.5"/>
<text x="53.19" y="830.05" font-size="23.80" textLength="41.20" lengthAdjust="spacingAndGlyphs">−20</text>
<line x1="105.80" y1="887.70" x2="117.50" y2="887.70" stroke="#000" stroke-width="1.5"/>
<text x="52.46" y="894.65" font-size="23.80" textLength="41.93" lengthAdjust="spacingAndGlyphs">−40</text>
<line x1="105.80" y1="952.30" x2="117.50" y2="952.30" stroke="#000" stroke-width="1.5"/>
<text x="52.46" y="959.25" font-size="23.80" textLength="41.93" lengthAdjust="spacingAndGlyphs">−60</text>
<line x1="105.80" y1="1016.90" x2="117.50" y2="1016.90" stroke="#000" stroke-width="1.5"/>
<text x="52.46" y="1023.85" font-size="23.80" textLength="41.93" lengthAdjust="spacingAndGlyphs">−80</text>
<line x1="105.80" y1="1081.50" x2="117.50" y2="1081.50" stroke="#000" stroke-width="1.5"/>
<text x="41.73" y="1088.45" font-size="23.80" textLength="52.65" lengthAdjust="spacingAndGlyphs">−100</text>
<line x1="263.40" y1="1089.80" x2="263.40" y2="1101.40" stroke="#333" stroke-width="1.5"/>
<text x="228.15" y="1134.25" font-size="29.80" textLength="69.03" lengthAdjust="spacingAndGlyphs">2030</text>
<line x1="555.70" y1="1089.80" x2="555.70" y2="1101.40" stroke="#333" stroke-width="1.5"/>
<text x="520.45" y="1134.25" font-size="29.80" textLength="69.03" lengthAdjust="spacingAndGlyphs">2050</text>
</g>
<g id="panel-d">
<rect x="746.50" y="757.10" width="584.70" height="2.8" fill="#595959"/>
<rect x="783.50" y="654.85" width="23.7" height="88.00" fill="#767ee7" opacity="0.8"/>
<rect x="861.50" y="663.19" width="23.7" height="91.16" fill="#19b38a" opacity="0.8"/>
<clipPath id="hc7"><rect x="978.50" y="704.17" width="23.7" height="116.78"/></clipPath>
<path d="M976.50,681.89L1004.20,655.71V660.51L976.50,686.69ZM976.50,696.12L1004.20,669.94V674.74L976.50,700.92ZM976.50,710.35L1004.20,684.17V688.97L976.50,715.15ZM976.50,724.58L1004.20,698.40V703.20L976.50,729.38ZM976.50,738.81L1004.20,712.63V717.43L976.50,743.61ZM976.50,753.04L1004.20,726.86V731.66L976.50,757.84ZM976.50,767.27L1004.20,741.09V745.89L976.50,772.07ZM976.50,781.50L1004.20,755.32V760.12L976.50,786.30ZM976.50,795.73L1004.20,769.55V774.35L976.50,800.53ZM976.50,809.96L1004.20,783.78V788.58L976.50,814.76ZM976.50,824.19L1004.20,798.01V802.81L976.50,828.99ZM976.50,838.42L1004.20,812.24V817.04L976.50,843.22ZM976.50,852.65L1004.20,826.47V831.27L976.50,857.45ZM976.50,866.88L1004.20,840.70V845.50L976.50,871.68ZM976.50,881.11L1004.20,854.93V859.73L976.50,885.91ZM976.50,895.34L1004.20,869.16V873.96L976.50,900.14Z" fill="#7f7f7f" opacity="0.8" clip-path="url(#hc7)"/>
<rect x="939.50" y="695.11" width="23.7" height="148.27" fill="#eaa46f" opacity="0.8"/>
<rect x="900.50" y="680.02" width="23.7" height="87.27" fill="#ac76e7" opacity="0.8"/>
<rect x="822.50" y="671.39" width="23.7" height="100.51" fill="#d96552" opacity="0.8"/>
<rect x="1075.75" y="601.47" width="23.7" height="189.69" fill="#767ee7" opacity="0.8"/>
<rect x="1153.75" y="660.35" width="23.7" height="295.88" fill="#19b38a" opacity="0.8"/>
<clipPath id="hc8"><rect x="1270.75" y="823.66" width="23.7" height="244.01"/></clipPath>
<path d="M1268.75,802.44L1296.45,776.26V781.06L1268.75,807.24ZM1268.75,816.67L1296.45,790.49V795.29L1268.75,821.47ZM1268.75,830.90L1296.45,804.72V809.52L1268.75,835.70ZM1268.75,845.13L1296.45,818.95V823.75L1268.75,849.93ZM1268.75,859.36L1296.45,833.18V837.98L1268.75,864.16ZM1268.75,873.59L1296.45,847.41V852.21L1268.75,878.39ZM1268.75,887.82L1296.45,861.64V866.44L1268.75,892.62ZM1268.75,902.05L1296.45,875.87V880.67L1268.75,906.85ZM1268.75,916.28L1296.45,890.10V894.90L1268.75,921.08ZM1268.75,930.51L1296.45,904.33V909.13L1268.75,935.31ZM1268.75,944.74L1296.45,918.56V923.36L1268.75,949.54ZM1268.75,958.97L1296.45,932.79V937.59L1268.75,963.77ZM1268.75,973.20L1296.45,947.02V951.82L1268.75,978.00ZM1268.75,987.43L1296.45,961.25V966.05L1268.75,992.23ZM1268.75,1001.66L1296.45,975.48V980.28L1268.75,1006.46ZM1268.75,1015.89L1296.45,989.71V994.51L1268.75,1020.69ZM1268.75,1030.12L1296.45,1003.94V1008.74L1268.75,1034.92ZM1268.75,1044.35L1296.45,1018.17V1022.97L1268.75,1049.15ZM1268.75,1058.58L1296.45,1032.40V1037.20L1268.75,1063.38ZM1268.75,1072.81L1296.45,1046.63V1051.43L1268.75,1077.61ZM1268.75,1087.04L1296.45,1060.86V1065.66L1268.75,1091.84ZM1268.75,1101.27L1296.45,1075.09V1079.89L1268.75,1106.07ZM1268.75,1115.50L1296.45,1089.32V1094.12L1268.75,1120.30ZM1268.75,1129.73L1296.45,1103.55V1108.35L1268.75,1134.53Z" fill="#7f7f7f" opacity="0.8" clip-path="url(#hc8)"/>
<rect x="1231.75" y="813.16" width="23.7" height="234.38" fill="#eaa46f" opacity="0.8"/>
<rect x="1192.75" y="746.77" width="23.7" height="281.36" fill="#ac76e7" opacity="0.8"/>
<rect x="1114.75" y="693.50" width="23.7" height="147.13" fill="#d96552" opacity="0.8"/>
<line x1="1038.6" y1="577.05" x2="1038.6" y2="1087.56" stroke="#000" stroke-width="2.4" stroke-dasharray="10.5 6.167"/>
<g stroke-linejoin="round">
<polygon points="790.85,683.45 783.60,668.95 798.10,668.95" fill="#636EFA" stroke="#fff" stroke-width="2.1"/>
<polygon points="786.24,686.91 771.74,679.66 771.74,694.16" fill="#636EFA" stroke="#fff" stroke-width="2.1"/>
<polygon points="795.31,683.61 788.06,698.11 802.56,698.11" fill="#636EFA" stroke="#fff" stroke-width="2.1"/>
<circle cx="795.31" cy="713.08" r="7.25" fill="#636EFA" stroke="#fff" stroke-width="2.1"/>
<rect x="788.06" y="735.60" width="14.50" height="14.50" fill="#636EFA" stroke="#fff" stroke-width="2.1"/>
<polygon points="791.74,647.71 795.31,651.28 798.88,647.71 802.45,651.28 798.88,654.85 802.45,658.42 798.88,661.99 795.31,658.42 791.74,661.99 788.17,658.42 791.74,654.85 788.17,651.28" fill="#636EFA" stroke="#fff" stroke-width="2.1"/>
<polygon points="843.34,719.83 836.09,705.33 850.59,705.33" fill="#EF553B" stroke="#fff" stroke-width="2.1"/>
<polygon points="827.38,707.91 820.13,722.41 834.63,722.41" fill="#EF553B" stroke="#fff" stroke-width="2.1"/>
<polygon points="841.75,730.48 827.25,723.23 827.25,737.73" fill="#EF553B" stroke="#fff" stroke-width="2.1"/>
<circle cx="818.17" cy="768.01" r="7.25" fill="#EF553B" stroke="#fff" stroke-width="2.1"/>
<rect x="827.24" y="764.65" width="14.50" height="14.50" fill="#EF553B" stroke="#fff" stroke-width="2.1"/>
<polygon points="830.56,664.25 834.13,667.82 837.70,664.25 841.27,667.82 837.70,671.39 841.27,674.96 837.70,678.53 834.13,674.96 830.56,678.53 826.99,674.96 830.56,671.39 826.99,667.82" fill="#EF553B" stroke="#fff" stroke-width="2.1"/>
<polygon points="885.04,702.74 877.79,717.24 892.29,717.24" fill="#00CC96" stroke="#fff" stroke-width="2.1"/>
<polygon points="857.86,722.42 850.61,707.92 865.11,707.92" fill="#00CC96" stroke="#fff" stroke-width="2.1"/>
<circle cx="873.25" cy="721.28" r="7.25" fill="#00CC96" stroke="#fff" stroke-width="2.1"/>
<polygon points="907.46,704.89 892.96,697.64 892.96,712.14" fill="#00CC96" stroke="#fff" stroke-width="2.1"/>
<rect x="866.29" y="747.10" width="14.50" height="14.50" fill="#00CC96" stroke="#fff" stroke-width="2.1"/>
<polygon points="869.68,656.05 873.25,659.62 876.82,656.05 880.39,659.62 876.82,663.19 880.39,666.76 876.82,670.33 873.25,666.76 869.68,670.33 866.11,666.76 869.68,663.19 866.11,659.62" fill="#00CC96" stroke="#fff" stroke-width="2.1"/>
<polygon points="919.97,712.36 905.47,705.11 905.47,719.61" fill="#AB63FA" stroke="#fff" stroke-width="2.1"/>
<polygon points="912.36,742.12 905.11,727.62 919.61,727.62" fill="#AB63FA" stroke="#fff" stroke-width="2.1"/>
<rect x="908.85" y="744.73" width="14.50" height="14.50" fill="#AB63FA" stroke="#fff" stroke-width="2.1"/>
<polygon points="900.43,749.33 893.18,763.83 907.68,763.83" fill="#AB63FA" stroke="#fff" stroke-width="2.1"/>
<circle cx="912.07" cy="767.29" r="7.25" fill="#AB63FA" stroke="#fff" stroke-width="2.1"/>
<polygon points="908.79,672.88 912.36,676.45 915.93,672.88 919.50,676.45 915.93,680.02 919.50,683.59 915.93,687.16 912.36,683.59 908.79,687.16 905.22,683.59 908.79,680.02 905.22,676.45" fill="#AB63FA" stroke="#fff" stroke-width="2.1"/>
<polygon points="958.80,773.33 944.30,766.08 944.30,780.58" fill="#FFA15A" stroke="#fff" stroke-width="2.1"/>
<rect x="928.84" y="786.36" width="14.50" height="14.50" fill="#FFA15A" stroke="#fff" stroke-width="2.1"/>
<polygon points="947.33,687.97 950.90,691.54 954.47,687.97 958.04,691.54 954.47,695.11 958.04,698.68 954.47,702.25 950.90,698.68 947.33,702.25 943.76,698.68 947.33,695.11 943.76,691.54" fill="#FFA15A" stroke="#fff" stroke-width="2.1"/>
<polygon points="986.44,697.03 990.01,700.60 993.58,697.03 997.15,700.60 993.58,704.17 997.15,707.74 993.58,711.31 990.01,707.74 986.44,711.31 982.87,707.74 986.44,704.17 982.87,700.60" fill="#7f7f7f" stroke="#fff" stroke-width="2.1"/>
<polygon points="961.97,782.85 954.72,797.35 969.22,797.35" fill="#FFA15A" stroke="#fff" stroke-width="2.1"/>
<polygon points="951.19,808.00 943.94,793.50 958.44,793.50" fill="#FFA15A" stroke="#fff" stroke-width="2.1"/>
<circle cx="951.19" cy="843.38" r="7.25" fill="#FFA15A" stroke="#fff" stroke-width="2.1"/>
<polygon points="997.19,767.17 982.69,759.92 982.69,774.42" fill="#7f7f7f" stroke="#fff" stroke-width="2.1"/>
<rect x="967.09" y="783.93" width="14.50" height="14.50" fill="#7f7f7f" stroke="#fff" stroke-width="2.1"/>
<polygon points="990.30,803.83 983.05,789.33 997.55,789.33" fill="#7f7f7f" stroke="#fff" stroke-width="2.1"/>
<polygon points="1005.83,783.28 998.58,797.78 1013.08,797.78" fill="#7f7f7f" stroke="#fff" stroke-width="2.1"/>
<circle cx="990.01" cy="820.95" r="7.25" fill="#7f7f7f" stroke="#fff" stroke-width="2.1"/>
<polygon points="1087.75,608.72 1080.50,594.22 1095.00,594.22" fill="#636EFA" stroke="#fff" stroke-width="2.1"/>
<circle cx="1070.78" cy="648.99" r="7.25" fill="#636EFA" stroke="#fff" stroke-width="2.1"/>
<polygon points="1095.51,649.71 1081.01,642.46 1081.01,656.96" fill="#636EFA" stroke="#fff" stroke-width="2.1"/>
<polygon points="1087.61,660.50 1080.36,675.00 1094.86,675.00" fill="#636EFA" stroke="#fff" stroke-width="2.1"/>
<polygon points="1084.04,692.47 1087.61,696.04 1091.18,692.47 1094.75,696.04 1091.18,699.61 1094.75,703.18 1091.18,706.75 1087.61,703.18 1084.04,706.75 1080.47,703.18 1084.04,699.61 1080.47,696.04" fill="#636EFA" stroke="#fff" stroke-width="2.1"/>
<polygon points="1126.58,700.75 1119.33,686.25 1133.83,686.25" fill="#EF553B" stroke="#fff" stroke-width="2.1"/>
<polygon points="1110.47,729.81 1103.22,744.31 1117.72,744.31" fill="#EF553B" stroke="#fff" stroke-width="2.1"/>
<polygon points="1134.48,741.31 1119.98,734.06 1119.98,748.56" fill="#EF553B" stroke="#fff" stroke-width="2.1"/>
<polygon points="1172.73,660.35 1158.23,653.10 1158.23,667.60" fill="#00CC96" stroke="#fff" stroke-width="2.1"/>
<circle cx="1165.40" cy="720.60" r="7.25" fill="#00CC96" stroke="#fff" stroke-width="2.1"/>
<polygon points="1211.70,746.77 1197.20,739.52 1197.20,754.02" fill="#AB63FA" stroke="#fff" stroke-width="2.1"/>
<rect x="1080.43" y="783.91" width="14.50" height="14.50" fill="#636EFA" stroke="#fff" stroke-width="2.1"/>
<polygon points="1107.91,755.83 1111.48,759.40 1115.05,755.83 1118.62,759.40 1115.05,762.97 1118.62,766.54 1115.05,770.11 1111.48,766.54 1107.91,770.11 1104.34,766.54 1107.91,762.97 1104.34,759.40" fill="#EF553B" stroke="#fff" stroke-width="2.1"/>
<circle cx="1126.58" cy="770.16" r="7.25" fill="#EF553B" stroke="#fff" stroke-width="2.1"/>
<rect x="1119.40" y="833.38" width="14.50" height="14.50" fill="#EF553B" stroke="#fff" stroke-width="2.1"/>
<polygon points="1150.02,763.54 1142.77,749.04 1157.27,749.04" fill="#00CC96" stroke="#fff" stroke-width="2.1"/>
<polygon points="1165.69,753.21 1158.44,767.71 1172.94,767.71" fill="#00CC96" stroke="#fff" stroke-width="2.1"/>
<rect x="1158.44" y="838.55" width="14.50" height="14.50" fill="#00CC96" stroke="#fff" stroke-width="2.1"/>
<polygon points="1204.52,839.47 1197.27,824.97 1211.77,824.97" fill="#AB63FA" stroke="#fff" stroke-width="2.1"/>
<rect x="1197.48" y="882.84" width="14.50" height="14.50" fill="#AB63FA" stroke="#fff" stroke-width="2.1"/>
<polygon points="1250.67,813.16 1236.17,805.91 1236.17,820.41" fill="#FFA15A" stroke="#fff" stroke-width="2.1"/>
<polygon points="1289.49,823.66 1274.99,816.41 1274.99,830.91" fill="#7f7f7f" stroke="#fff" stroke-width="2.1"/>
<polygon points="1161.83,949.09 1165.40,952.66 1168.97,949.09 1172.54,952.66 1168.97,956.23 1172.54,959.80 1168.97,963.37 1165.40,959.80 1161.83,963.37 1158.26,959.80 1161.83,956.23 1158.26,952.66" fill="#00CC96" stroke="#fff" stroke-width="2.1"/>
<polygon points="1204.52,908.60 1197.27,923.10 1211.77,923.10" fill="#AB63FA" stroke="#fff" stroke-width="2.1"/>
<circle cx="1204.52" cy="970.43" r="7.25" fill="#AB63FA" stroke="#fff" stroke-width="2.1"/>
<polygon points="1200.95,1020.99 1204.52,1024.56 1208.09,1020.99 1211.66,1024.56 1208.09,1028.13 1211.66,1031.70 1208.09,1035.27 1204.52,1031.70 1200.95,1035.27 1197.38,1031.70 1200.95,1028.13 1197.38,1024.56" fill="#AB63FA" stroke="#fff" stroke-width="2.1"/>
<rect x="1241.49" y="945.92" width="14.50" height="14.50" fill="#FFA15A" stroke="#fff" stroke-width="2.1"/>
<polygon points="1234.57,969.27 1227.32,954.77 1241.82,954.77" fill="#FFA15A" stroke="#fff" stroke-width="2.1"/>
<polygon points="1243.49,967.85 1236.24,982.35 1250.74,982.35" fill="#FFA15A" stroke="#fff" stroke-width="2.1"/>
<circle cx="1243.49" cy="1024.35" r="7.25" fill="#FFA15A" stroke="#fff" stroke-width="2.1"/>
<polygon points="1239.92,1040.40 1243.49,1043.97 1247.06,1040.40 1250.63,1043.97 1247.06,1047.54 1250.63,1051.11 1247.06,1054.68 1243.49,1051.11 1239.92,1054.68 1236.35,1051.11 1239.92,1047.54 1236.35,1043.97" fill="#FFA15A" stroke="#fff" stroke-width="2.1"/>
<polygon points="1267.79,951.87 1260.54,937.37 1275.04,937.37" fill="#7f7f7f" stroke="#fff" stroke-width="2.1"/>
<rect x="1275.49" y="945.20" width="14.50" height="14.50" fill="#7f7f7f" stroke="#fff" stroke-width="2.1"/>
<polygon points="1282.46,967.99 1275.21,982.49 1289.71,982.49" fill="#7f7f7f" stroke="#fff" stroke-width="2.1"/>
<circle cx="1282.46" cy="1014.57" r="7.25" fill="#7f7f7f" stroke="#fff" stroke-width="2.1"/>
<polygon points="1278.89,1060.53 1282.46,1064.10 1286.03,1060.53 1289.60,1064.10 1286.03,1067.67 1289.60,1071.24 1286.03,1074.81 1282.46,1071.24 1278.89,1074.81 1275.32,1071.24 1278.89,1067.67 1275.32,1064.10" fill="#7f7f7f" stroke="#fff" stroke-width="2.1"/>
</g>
<line x1="746.50" y1="578.00" x2="746.50" y2="1090.70" stroke="#000" stroke-width="1.45"/>
<line x1="745.80" y1="1089.80" x2="1331.00" y2="1089.80" stroke="#3d3d3d" stroke-width="1.85"/>
<line x1="734.80" y1="629.30" x2="746.50" y2="629.30" stroke="#000" stroke-width="1.5"/>
<line x1="734.80" y1="693.90" x2="746.50" y2="693.90" stroke="#000" stroke-width="1.5"/>
<line x1="734.80" y1="758.50" x2="746.50" y2="758.50" stroke="#000" stroke-width="1.5"/>
<line x1="734.80" y1="823.10" x2="746.50" y2="823.10" stroke="#000" stroke-width="1.5"/>
<line x1="734.80" y1="887.70" x2="746.50" y2="887.70" stroke="#000" stroke-width="1.5"/>
<line x1="734.80" y1="952.30" x2="746.50" y2="952.30" stroke="#000" stroke-width="1.5"/>
<line x1="734.80" y1="1016.90" x2="746.50" y2="1016.90" stroke="#000" stroke-width="1.5"/>
<line x1="734.80" y1="1081.50" x2="746.50" y2="1081.50" stroke="#000" stroke-width="1.5"/>
<line x1="892.85" y1="1089.80" x2="892.85" y2="1101.40" stroke="#333" stroke-width="1.5"/>
<text x="857.60" y="1134.25" font-size="29.80" textLength="69.03" lengthAdjust="spacingAndGlyphs">2030</text>
<line x1="1185.00" y1="1089.80" x2="1185.00" y2="1101.40" stroke="#333" stroke-width="1.5"/>
<text x="1149.75" y="1134.25" font-size="29.80" textLength="69.03" lengthAdjust="spacingAndGlyphs">2050</text>
</g>
<text x="129.02" y="29.20" font-size="39.50" textLength="21.94" lengthAdjust="spacingAndGlyphs" font-weight="bold">a</text>
<text x="761.48" y="29.10" font-size="39.50" textLength="27.46" lengthAdjust="spacingAndGlyphs" font-weight="bold">b</text>
<text x="128.93" y="616.10" font-size="39.50" textLength="24.66" lengthAdjust="spacingAndGlyphs" font-weight="bold">c</text>
<text x="762.23" y="616.00" font-size="39.50" textLength="27.10" lengthAdjust="spacingAndGlyphs" font-weight="bold">d</text>
<text x="350.66" y="28.60" font-size="28.40" textLength="118.51" lengthAdjust="spacingAndGlyphs">Buildings</text>
<text x="978.13" y="28.60" font-size="28.40" textLength="120.78" lengthAdjust="spacingAndGlyphs">Transport</text>
<text x="21.30" y="691.09" transform="rotate(-90 21.30 691.09)" font-size="28.30" textLength="247.47" lengthAdjust="spacingAndGlyphs">Relative to 2015 (%)</text>
<text x="697.24" y="1180.85" font-size="27.90" textLength="53.58" lengthAdjust="spacingAndGlyphs">Year</text>
<text x="1347.95" y="224.06" transform="rotate(90 1347.95 224.06)" font-size="28.10" textLength="154.29" lengthAdjust="spacingAndGlyphs">Final energy</text>
<text x="1348.00" y="741.58" transform="rotate(90 1348.00 741.58)" font-size="28.10" textLength="42.64" lengthAdjust="spacingAndGlyphs">CO</text>
<text x="1339.80" y="783.52" transform="rotate(90 1339.80 783.52)" font-size="20.00" textLength="10.88" lengthAdjust="spacingAndGlyphs">2</text>
<text x="1348.00" y="801.17" transform="rotate(90 1348.00 801.17)" font-size="28.10" textLength="126.05" lengthAdjust="spacingAndGlyphs">emissions</text>
<text x="1455.76" y="328.00" font-size="29.00" textLength="179.77" lengthAdjust="spacingAndGlyphs">Scenario (NPi)</text>
<rect x="1417.0" y="346.50" width="24.0" height="23.7" fill="#767ee7"/>
<text x="1456.33" y="365.05" font-size="24.30" textLength="39.15" lengthAdjust="spacingAndGlyphs">REF</text>
<rect x="1417.0" y="384.90" width="24.0" height="23.7" fill="#d96552"/>
<text x="1457.30" y="403.45" font-size="24.30" textLength="42.43" lengthAdjust="spacingAndGlyphs">ACT</text>
<rect x="1417.0" y="423.30" width="24.0" height="23.7" fill="#19b38a"/>
<text x="1457.49" y="441.85" font-size="24.30" textLength="40.82" lengthAdjust="spacingAndGlyphs">TEC</text>
<rect x="1417.0" y="461.70" width="24.0" height="23.7" fill="#ac76e7"/>
<text x="1456.31" y="480.25" font-size="24.30" textLength="37.48" lengthAdjust="spacingAndGlyphs">ELE</text>
<rect x="1417.0" y="500.10" width="24.0" height="23.7" fill="#eaa46f"/>
<text x="1457.30" y="518.65" font-size="24.30" textLength="28.93" lengthAdjust="spacingAndGlyphs">All</text>
<clipPath id="hleg"><rect x="1416.9" y="538.50" width="24.2" height="23.7"/></clipPath>
<path d="M1406.14,562.20h2.85L1417.43,538.50h-2.85ZM1412.82,562.20h2.85L1424.11,538.50h-2.85ZM1419.50,562.20h2.85L1430.79,538.50h-2.85ZM1426.18,562.20h2.85L1437.47,538.50h-2.85ZM1432.86,562.20h2.85L1444.15,538.50h-2.85ZM1439.54,562.20h2.85L1450.83,538.50h-2.85ZM1446.22,562.20h2.85L1457.51,538.50h-2.85Z" fill="#808080" clip-path="url(#hleg)"/>
<text x="1455.93" y="557.05" font-size="24.30" textLength="253.65" lengthAdjust="spacingAndGlyphs">No-interaction estimate</text>
<text x="1455.33" y="614.00" font-size="29.00" textLength="80.60" lengthAdjust="spacingAndGlyphs">Model</text>
<g stroke-linejoin="round">
<polygon points="1425.63,636.45 1429.05,639.88 1432.47,636.45 1435.90,639.88 1432.47,643.30 1435.90,646.72 1432.47,650.15 1429.05,646.72 1425.63,650.15 1422.20,646.72 1425.63,643.30 1422.20,639.88" fill="#000" stroke="#000" stroke-width="0.8"/>
<text x="1456.25" y="650.25" font-size="24.30" textLength="85.41" lengthAdjust="spacingAndGlyphs">COFFEE</text>
<rect x="1422.10" y="671.65" width="13.90" height="13.90" fill="#000" stroke="#000" stroke-width="0.8"/>
<text x="1456.07" y="685.55" font-size="24.30" textLength="117.70" lengthAdjust="spacingAndGlyphs">IMACLIM-R</text>
<circle cx="1429.05" cy="713.90" r="6.95" fill="#000" stroke="#000" stroke-width="0.8"/>
<text x="1456.12" y="720.85" font-size="24.30" textLength="70.92" lengthAdjust="spacingAndGlyphs">IMAGE</text>
<polygon points="1429.05,756.15 1422.10,742.25 1436.00,742.25" fill="#000" stroke="#000" stroke-width="0.8"/>
<text x="1456.39" y="756.15" font-size="24.30" textLength="150.90" lengthAdjust="spacingAndGlyphs">PROMETHEUS</text>
<polygon points="1429.05,777.55 1422.10,791.45 1436.00,791.45" fill="#000" stroke="#000" stroke-width="0.8"/>
<text x="1456.39" y="791.45" font-size="24.30" textLength="84.27" lengthAdjust="spacingAndGlyphs">REMIND</text>
<polygon points="1436.00,819.80 1422.10,812.85 1422.10,826.75" fill="#000" stroke="#000" stroke-width="0.8"/>
<text x="1457.49" y="826.75" font-size="24.30" textLength="72.32" lengthAdjust="spacingAndGlyphs">WITCH</text>
<polygon points="1422.10,855.10 1436.00,848.15 1436.00,862.05" fill="#000" stroke="#000" stroke-width="0.8"/>
<text x="1456.27" y="862.05" font-size="24.30" textLength="229.92" lengthAdjust="spacingAndGlyphs">MESSAGEix-Buildings</text>
</g>
</svg>
</body>
</html>
